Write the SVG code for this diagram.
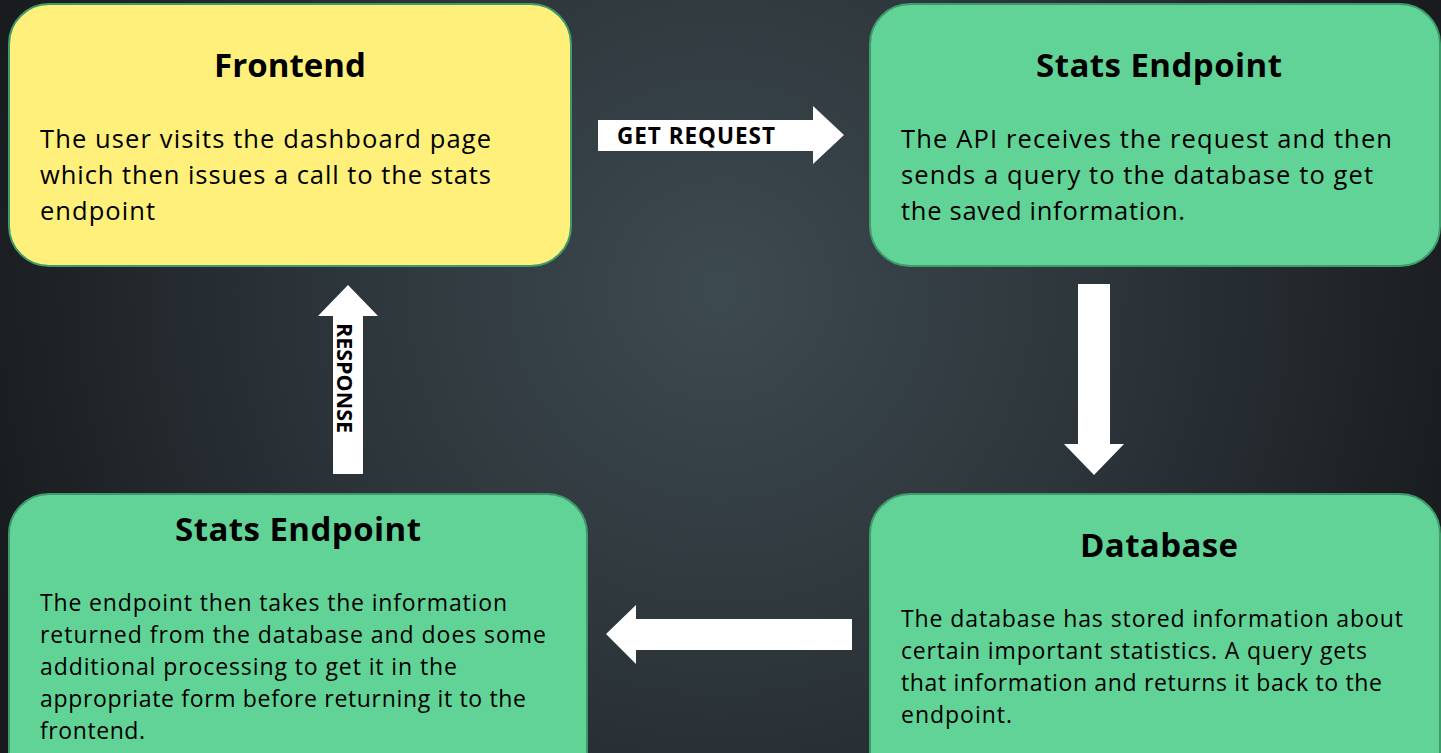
<svg xmlns="http://www.w3.org/2000/svg" width="1441" height="753" viewBox="0 0 1441 753">
  <defs>
    <radialGradient id="bg" cx="720" cy="290" r="800" gradientUnits="userSpaceOnUse">
      <stop offset="0" stop-color="#3d4a50"/>
      <stop offset="0.55" stop-color="#2a3237"/>
      <stop offset="1" stop-color="#17191c"/>
    </radialGradient>
  </defs>
  <style>
    .box { stroke: #3f9a6c; stroke-width: 2; }
    .yellow { fill: #fef07a; }
    .green { fill: #62d397; }
    .title { font-family: "Open Sans", "Liberation Sans", sans-serif; font-weight: 700; font-size: 33px; fill: #000; text-anchor: middle; }
    .body { font-family: "Open Sans", "Liberation Sans", sans-serif; font-size: 25.5px; fill: #000; }
    .body.small { font-size: 23px; }
    .arrow { fill: #ffffff; }
    .alabel { font-family: "Open Sans", "Liberation Sans", sans-serif; font-weight: 700; font-size: 22.5px; fill: #000; }
  </style>
  <rect width="1441" height="753" fill="url(#bg)"/>

  <g id="frontend">
    <rect class="box yellow" x="9" y="4" width="562" height="262" rx="40"/>
    <text class="title" x="290" y="77" textLength="152">Frontend</text>
    <text class="body" x="40" y="148" textLength="451">The user visits the dashboard page</text>
    <text class="body" x="40" y="184" textLength="451">which then issues a call to the stats</text>
    <text class="body" x="40" y="220" textLength="115">endpoint</text>
  </g>

  <g id="stats-endpoint-request">
    <rect class="box green" x="870" y="4" width="570" height="262" rx="40"/>
    <text class="title" x="1159" y="77" textLength="246">Stats Endpoint</text>
    <text class="body" x="901" y="148" textLength="491">The API receives the request and then</text>
    <text class="body" x="901" y="184" textLength="472">sends a query to the database to get</text>
    <text class="body" x="901" y="220" textLength="284">the saved information.</text>
  </g>

  <g id="database">
    <rect class="box green" x="870" y="494" width="570" height="300" rx="40"/>
    <text class="title" x="1159" y="557" textLength="158">Database</text>
    <text class="body small" x="901" y="627" textLength="502">The database has stored information about</text>
    <text class="body small" x="901" y="659" textLength="466">certain important statistics. A query gets</text>
    <text class="body small" x="901" y="691" textLength="481">that information and returns it back to the</text>
    <text class="body small" x="901" y="723" textLength="111">endpoint.</text>
  </g>

  <g id="stats-endpoint-response">
    <rect class="box green" x="9" y="494" width="578" height="300" rx="40"/>
    <text class="title" x="298" y="541" textLength="246">Stats Endpoint</text>
    <text class="body small" x="40" y="611" textLength="467">The endpoint then takes the information</text>
    <text class="body small" x="40" y="643" textLength="506">returned from the database and does some</text>
    <text class="body small" x="40" y="675" textLength="417">additional processing to get it in the</text>
    <text class="body small" x="40" y="707" textLength="486">appropriate form before returning it to the</text>
    <text class="body small" x="40" y="739" textLength="105">frontend.</text>
  </g>

  <g id="connectors">
    <!-- request: frontend to endpoint -->
    <polygon class="arrow" points="598,120 813,120 813,106 844,135 813,164 813,151 598,151"/>
    <text class="alabel" x="617" y="144" textLength="158">GET REQUEST</text>
    <!-- query: endpoint to database -->
    <polygon class="arrow" points="1078,284 1110,284 1110,444 1124,444 1094,475 1064,444 1078,444"/>
    <!-- result: database to endpoint -->
    <polygon class="arrow" points="852,619 852,650 636,650 636,664 606,634 636,605 636,619"/>
    <!-- response: endpoint to frontend -->
    <polygon class="arrow" points="333,474 333,316 318,316 348,285 378,316 363,316 363,474"/>
    <text class="alabel" transform="translate(337,323) rotate(90)" style="font-size:21.5px" textLength="110">RESPONSE</text>
  </g>
</svg>
